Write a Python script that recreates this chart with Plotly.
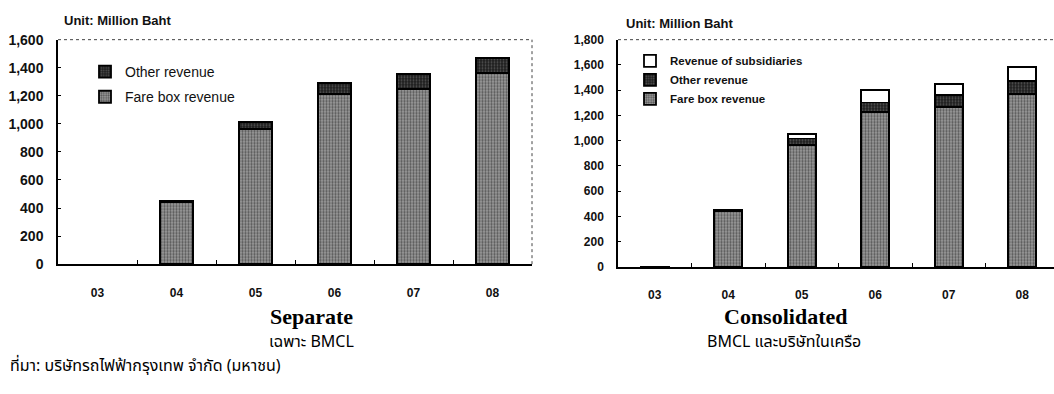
import plotly.graph_objects as go

# Fiscal years (2003-2008)
years = ["03", "04", "05", "06", "07", "08"]

# Separate statements (BMCL only), million baht
sep_fare = [0, 445, 965, 1215, 1250, 1365]
sep_other = [0, 5, 50, 75, 103, 102]

# Consolidated statements (BMCL and subsidiaries), million baht
con_fare = [3, 445, 965, 1225, 1265, 1372]
con_other = [0, 5, 52, 78, 97, 101]
con_subs = [0, 0, 33, 101, 86, 110]

W, H = 1054, 394

FARE_BG, FARE_FG = "#9c9c9c", "#111111"
OTHER_BG, OTHER_FG = "#1e1e1e", "#8a8a8a"
SANS = "Liberation Sans, Arial, sans-serif"
SERIF = "Liberation Serif, Times New Roman, serif"
THAI = "Noto Sans Thai, Loma, Garuda, Norasi, Tlwg Typo, Noto Sans, sans-serif"


def px_x(p):
    return p / W


def px_y(p):
    return 1 - p / H


def bar(name, x, y, xa, ya, bg, fg, width, legend, rank, shape=".", solidity=0.45):
    # empty segments are left out so no outline is drawn for them
    vals = [v if v > 0 else None for v in y]
    return go.Bar(
        name=name, x=x, y=vals, xaxis=xa, yaxis=ya, width=width,
        legend=legend, legendgroup=legend + name, legendrank=rank,
        marker=dict(
            color=bg,
            line=dict(color="#000", width=1.8),
            pattern=dict(shape=shape, fgcolor=fg, bgcolor=bg, size=3,
                         solidity=solidity, fillmode="overlay") if shape else None,
        ),
    )


fig = go.Figure()
# Left chart: separate
fig.add_trace(bar("Fare box revenue", years, sep_fare, "x", "y", FARE_BG, FARE_FG, 0.42, "legend", 2))
fig.add_trace(bar("Other revenue", years, sep_other, "x", "y", OTHER_BG, OTHER_FG, 0.42, "legend", 1, solidity=0.3))
# Right chart: consolidated
fig.add_trace(bar("Fare box revenue", years, con_fare, "x2", "y2", FARE_BG, FARE_FG, 0.38, "legend2", 3))
fig.add_trace(bar("Other revenue", years, con_other, "x2", "y2", OTHER_BG, OTHER_FG, 0.38, "legend2", 2, solidity=0.3))
fig.add_trace(bar("Revenue of subsidiaries", years, con_subs, "x2", "y2", "#ffffff", "#000", 0.38, "legend2", 1, shape=""))

L1, R1, T1, B1 = 58, 532, 33, 267
L2, R2, T2, B2 = 618, 1054, 33, 270

xcommon = dict(type="category", showline=True, linecolor="#000", linewidth=2,
               ticks="inside", ticklen=4, tickcolor="#000", tickson="boundaries",
               tickfont=dict(family=SANS, size=12, color="#111", weight="bold"),
               ticklabelstandoff=16, showgrid=False, zeroline=False,
               fixedrange=True)
ycommon = dict(showline=True, linecolor="#000", linewidth=1.5, ticks="inside",
               ticklen=3, tickcolor="#000", tickformat=",", dtick=200,
               ticklabelstandoff=10, showgrid=False,
               zeroline=False, fixedrange=True)

fig.update_layout(
    width=W, height=H,
    margin=dict(l=0, r=0, t=0, b=0),
    paper_bgcolor="#fff", plot_bgcolor="#fff",
    barmode="stack",
    xaxis=dict(xcommon, domain=[px_x(L1), px_x(R1)], anchor="y",
               categoryorder="array", categoryarray=years, range=[-0.5, 5.5]),
    yaxis=dict(ycommon, domain=[px_y(B1), px_y(T1)], anchor="x", range=[0, 1600],
               tickfont=dict(family=SANS, size=14, color="#111", weight="bold")),
    xaxis2=dict(xcommon, domain=[px_x(L2), px_x(R2)], anchor="y2",
                categoryorder="array", categoryarray=years,
                range=[-0.5, 5.5 - 5 / 73.5]),
    yaxis2=dict(ycommon, domain=[px_y(B2), px_y(T2)], anchor="x2", range=[0, 1800],
                tickfont=dict(family=SANS, size=12, color="#111", weight="bold")),
    legend=dict(x=px_x(85), y=px_y(50), xanchor="left", yanchor="top",
                traceorder="grouped", bgcolor="rgba(0,0,0,0)",
                font=dict(family=SANS, size=14, color="#111"),
                itemwidth=30, tracegroupgap=4),
    legend2=dict(x=px_x(630), y=px_y(40), xanchor="left", yanchor="top",
                 traceorder="grouped", bgcolor="rgba(0,0,0,0)",
                 font=dict(family=SANS, size=11.5, color="#111", weight="bold"),
                 itemwidth=30, tracegroupgap=0),
    showlegend=True,
)

# Dotted frame edges on top / right of each plot area
for xr, yr, right in (("x domain", "y domain", True), ("x2 domain", "y2 domain", False)):
    fig.add_shape(type="line", xref=xr, yref=yr, x0=0, x1=1, y0=1, y1=1,
                  line=dict(color="#444", width=1, dash="dot"))
    if right:
        fig.add_shape(type="line", xref=xr, yref=yr, x0=1, x1=1, y0=0, y1=1,
                      line=dict(color="#444", width=1, dash="dot"))

ann = [
    dict(x=px_x(62), y=px_y(13), text="Unit: Million Baht", xanchor="left",
         font=dict(family=SANS, size=13, color="#111", weight=600)),
    dict(x=px_x(624), y=px_y(16), text="Unit: Million Baht", xanchor="left",
         font=dict(family=SANS, size=13, color="#111", weight=600)),
    dict(x=px_x(311), y=px_y(322), text="<b>Separate</b>", xanchor="center",
         font=dict(family=SERIF, size=22, color="#000")),
    dict(x=px_x(785), y=px_y(322), text="<b>Consolidated</b>", xanchor="center",
         font=dict(family=SERIF, size=22, color="#000")),
    dict(x=px_x(311), y=px_y(348), text="เฉพาะ BMCL", xanchor="center",
         font=dict(family=THAI, size=16, color="#000")),
    dict(x=px_x(784), y=px_y(348), text="BMCL และบริษัทในเครือ", xanchor="center",
         font=dict(family=THAI, size=16, color="#000")),
    dict(x=px_x(8), y=px_y(373), text="ที่มา: บริษัทรถไฟฟ้ากรุงเทพ จำกัด (มหาชน)",
         xanchor="left", font=dict(family=THAI, size=16, color="#000")),
]
for a in ann:
    a.update(xref="paper", yref="paper", yanchor="middle", showarrow=False)
    fig.add_annotation(**a)

fig.write_html("out.html")
